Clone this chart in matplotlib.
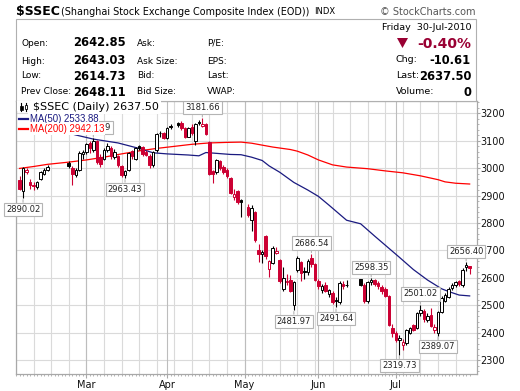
import numpy as np
import pandas as pd
import matplotlib
matplotlib.use("Agg")
import matplotlib.pyplot as plt
from matplotlib.patches import Rectangle, Polygon
from matplotlib.lines import Line2D

W, H = 520, 391

RED = "#cc0033"
DARKRED = "#990033"
NAVY = "#1a1a80"
MARED = "#ff0000"
GRID = "#dadada"
GRID_MONTH = "#bdbdbd"
FRAME = "#a8a8a8"

# market closed (Spring festival, Qingming, Labour day, Dragon boat)
holidays = ["2010-02-15", "2010-02-16", "2010-02-17", "2010-02-18", "2010-02-19",
            "2010-04-05", "2010-05-03", "2010-06-14", "2010-06-15", "2010-06-16"]

# daily bars, 2 Feb .. 30 Jul 2010 (one line per month)
opens = [
    2955, 2915, 2985, 2950, 2940, 2932, 2962, 2978, 2993, 3020, 3002, 2975, 2995, 3050,
    3058, 3090, 3065, 3098, 3040, 3035, 3065, 3075, 3042, 3045, 3008, 2975, 2995, 3062,
    3035, 3082, 3078, 3060, 3045, 3010, 3065, 3127, 3128,
    3110, 3155, 3165, 3165, 3145, 3115, 3150, 3098, 3168, 3155, 3160, 3097, 2988, 2985,
    3025, 3003, 2995, 2965, 2893, 2915, 2882,
    2860, 2810, 2840, 2700, 2685, 2752, 2632, 2655, 2690, 2665, 2560, 2585, 2593, 2500,
    2628, 2657, 2625, 2622, 2673, 2652,
    2590, 2555, 2575, 2540, 2545, 2520, 2512, 2578, 2575, 2594, 2575, 2515, 2586, 2592,
    2580, 2568, 2560, 2535, 2416,
    2400, 2372, 2355, 2362, 2400, 2428, 2415, 2470, 2478, 2445, 2465, 2410, 2400, 2475,
    2515, 2530, 2562, 2572, 2588, 2572, 2638, 2642.85,
]
highs = [
    2970, 3006, 3000, 2960, 2950, 2952, 2990, 3002, 3012, 3025, 3008, 3002, 3062, 3065,
    3090, 3100, 3108.59, 3102, 3050, 3072, 3090, 3082, 3070, 3048, 3010, 2995, 3060, 3065,
    3078, 3086, 3082, 3065, 3050, 3062, 3130, 3136, 3132,
    3150, 3160, 3170, 3172, 3150, 3150, 3160, 3165, 3175, 3181.66, 3165, 3100, 2995, 3035,
    3030, 3010, 3000, 2968, 2925, 2920, 2888,
    2870, 2865, 2845, 2725, 2700, 2755, 2665, 2715, 2712, 2668, 2640, 2615, 2612, 2590,
    2680, 2662, 2640, 2668, 2686.54, 2655,
    2595, 2578, 2585, 2560, 2550, 2530, 2590, 2588, 2592, 2596, 2580, 2590, 2598.35, 2595,
    2590, 2572, 2565, 2538, 2430,
    2405, 2392, 2375, 2412, 2420, 2432, 2475, 2501.02, 2485, 2470, 2490, 2430, 2480, 2535,
    2545, 2565, 2580, 2590, 2592, 2635, 2656.40, 2643.03,
]
lows = [
    2920, 2890.02, 2978, 2925, 2922, 2925, 2958, 2975, 2990, 3000, 2940, 2968, 2990, 3035,
    3050, 3055, 3060, 3015, 3005, 3030, 3058, 3035, 3035, 3005, 2968, 2963.43, 2990, 3035,
    3030, 3065, 3045, 3045, 3000, 3005, 3060, 3115, 3105,
    3108, 3142, 3150, 3140, 3110, 3112, 3120, 3085, 3158, 3150, 3120, 2975, 2945, 2980,
    2995, 2980, 2965, 2905, 2885, 2870, 2822,
    2820, 2770, 2730, 2658, 2655, 2670, 2603, 2650, 2685, 2580, 2552, 2575, 2548, 2481.97,
    2622, 2590, 2595, 2610, 2640, 2588,
    2560, 2545, 2548, 2530, 2505, 2491.64, 2505, 2560, 2565, 2570, 2508, 2508, 2575, 2570,
    2560, 2540, 2530, 2425, 2385,
    2365, 2319.73, 2338, 2355, 2395, 2405, 2412, 2460, 2440, 2438, 2420, 2400, 2389.07, 2470,
    2510, 2525, 2555, 2565, 2570, 2568, 2625, 2614.73,
]
closes = [
    2925, 3000, 2993, 2940, 2935, 2948, 2985, 2995, 3005, 3008, 2978, 2995, 3055, 3058,
    3087, 3073, 3100, 3022, 3015, 3068, 3080, 3045, 3060, 3012, 2975, 2990, 3057, 3045,
    3072, 3075, 3050, 3048, 3012, 3058, 3125, 3128, 3109,
    3148, 3150, 3157, 3145, 3115, 3145, 3128, 3160, 3163, 3160, 3125, 2980, 2978, 3030,
    3000, 2985, 2970, 2910, 2905, 2875, 2877,
    2830, 2855, 2738, 2688, 2695, 2678, 2660, 2710, 2698, 2588, 2598, 2590, 2553, 2583,
    2672, 2618, 2622, 2660, 2652, 2592.15,
    2569, 2571, 2553, 2554, 2512, 2514, 2580, 2570, 2572, 2575, 2514, 2585, 2592, 2578,
    2570, 2552, 2535, 2427, 2398,
    2373, 2382, 2364, 2409, 2415, 2411, 2470, 2482, 2448, 2460, 2424, 2420, 2475, 2528,
    2538, 2560, 2572, 2585, 2576, 2630, 2648.11, 2637.50,
]

ma50_dates = ["2010-02-10", "2010-02-22", "2010-02-24", "2010-03-03", "2010-03-12",
              "2010-03-22", "2010-03-26", "2010-04-01", "2010-04-09", "2010-04-14",
              "2010-04-16", "2010-04-21", "2010-04-27", "2010-04-30", "2010-05-05",
              "2010-05-10", "2010-05-12", "2010-05-17", "2010-05-21", "2010-05-27",
              "2010-06-01", "2010-06-04", "2010-06-11", "2010-06-17", "2010-06-23",
              "2010-06-29", "2010-07-02", "2010-07-08", "2010-07-14", "2010-07-20",
              "2010-07-22", "2010-07-27", "2010-07-30"]
ma50_vals = [3150, 3128, 3121, 3106, 3092, 3072, 3056, 3052, 3048, 3045,
             3057, 3054, 3050, 3049, 3040, 3028, 3008, 2985, 2948, 2920,
             2897, 2865, 2810, 2797, 2752, 2708, 2675, 2630, 2592, 2560,
             2550, 2537, 2533.88]

ma200_dates = ["2010-02-02", "2010-02-08", "2010-02-12", "2010-02-22", "2010-03-01",
               "2010-03-08", "2010-03-15", "2010-03-22", "2010-03-29", "2010-04-06",
               "2010-04-12", "2010-04-19", "2010-04-26", "2010-04-30", "2010-05-05",
               "2010-05-10", "2010-05-13", "2010-05-20", "2010-05-24", "2010-05-27",
               "2010-06-01", "2010-06-07", "2010-06-11", "2010-06-17", "2010-06-21",
               "2010-06-28", "2010-07-05", "2010-07-12", "2010-07-19", "2010-07-21",
               "2010-07-26", "2010-07-30"]
ma200_vals = [2999, 3006, 3014, 3022, 3030, 3040, 3052, 3063, 3072, 3081,
              3087, 3092, 3094, 3095, 3091, 3084, 3077, 3068, 3062, 3048,
              3030, 3012, 3004, 3000, 2998, 2990, 2983, 2972, 2958, 2950,
              2945, 2942.13]

# price flags on the chart
flag_dates = ["2010-02-03", "2010-03-03", "2010-03-16", "2010-04-15", "2010-05-21",
              "2010-05-28", "2010-06-08", "2010-06-22", "2010-07-02", "2010-07-12",
              "2010-07-19", "2010-07-29"]
flag_side = ["low", "high", "low", "high", "low", "high", "low", "high", "low", "high",
             "low", "high"]


def fx(x):
    return x / W


def fy(y):
    return 1 - y / H


fig = plt.figure(figsize=(W / 100, H / 100), dpi=100)
fig.patch.set_facecolor("white")

weekdays = pd.bdate_range("2010-02-01", "2010-07-30")
days = weekdays[1:].difference(pd.to_datetime(holidays))
pos = weekdays.get_indexer(days)

o, h, l, c = map(np.array, (opens, highs, lows, closes))
prev = np.r_[o[0], c[:-1]]
edge = np.where(c >= prev, "black", RED)
face = np.where(c > o, "white", edge)

ax = fig.add_axes([fx(16), fy(374), (476.7 - 16) / W, (374 - 101) / H])

# grid: weekly (mondays) and month starts
mondays = [i for i, d in enumerate(weekdays) if d.dayofweek == 0]
month_pos = [i for i in range(1, len(weekdays)) if weekdays[i].month != weekdays[i - 1].month]
for i in mondays:
    ax.axvline(i, color=GRID, lw=0.8, zorder=0)
for i in month_pos:
    ax.axvline(i, color=GRID_MONTH, lw=0.8, zorder=0.5)
for v in range(2300, 3201, 100):
    ax.axhline(v, color=GRID, lw=0.8, zorder=0)

ax.plot(weekdays.get_indexer(pd.to_datetime(ma200_dates)), ma200_vals, color=MARED, lw=0.9, zorder=2)
ax.plot(weekdays.get_indexer(pd.to_datetime(ma50_dates)), ma50_vals, color=NAVY, lw=0.9, zorder=2)

ax.vlines(pos, l, h, colors=edge, lw=0.8, zorder=3)
ax.bar(pos, np.maximum(np.abs(c - o), 2.5), bottom=np.minimum(o, c), width=0.72,
       color=face, edgecolor=edge, lw=0.7, zorder=4)

for d, side in zip(flag_dates, flag_side):
    k = days.get_loc(pd.Timestamp(d))
    val = h[k] if side == "high" else l[k]
    dy = 11 if side == "high" else -11
    ax.annotate(f"{val:.2f}", xy=(pos[k], val), xytext=(0, dy), textcoords="offset pixels",
                ha="center", va="center", fontsize=6, color="#222222", zorder=6,
                annotation_clip=False,
                bbox=dict(boxstyle="square,pad=0.25", fc="white", ec="#b4b4b4", lw=0.8),
                arrowprops=dict(arrowstyle="-", color="#b4b4b4", lw=0.8, shrinkA=0, shrinkB=1))

ax.set_xlim(0.28, 131.0)
ax.set_ylim(2249, 3245)
ax.yaxis.tick_right()
ax.set_yticks(range(2300, 3201, 100))
ax.set_yticks(range(2260, 3245, 20), minor=True)
ax.set_xticks(month_pos)
ax.set_xticklabels([weekdays[i].strftime("%b") for i in month_pos])
ax.set_xticks(range(len(weekdays)), minor=True)
ax.tick_params(which="major", length=3, color=FRAME, labelsize=7, pad=1.5, labelcolor="#111111")
ax.tick_params(axis="y", which="major", length=2, pad=0.8)
ax.tick_params(which="minor", length=1.5, color=FRAME)
for s in ax.spines.values():
    s.set_color(FRAME)
    s.set_linewidth(0.9)

# legend in the plot corner (sits over the flags)
leg_bg = dict(boxstyle="square,pad=0.15", fc="white", ec="none")
fig.text(fx(33), fy(107), f"$SSEC (Daily) {closes[-1]:.2f}", fontsize=8, va="center", bbox=leg_bg, zorder=5)
fig.text(fx(29.5), fy(118.5), f"MA(50) {ma50_vals[-1]:.2f}", fontsize=6.9, family="Liberation Sans",
         color=NAVY, va="center", bbox=leg_bg, zorder=5)
fig.text(fx(29.5), fy(129), f"MA(200) {ma200_vals[-1]:.2f}", fontsize=6.9, family="Liberation Sans",
         color=MARED, va="center", bbox=leg_bg, zorder=5)
fig.add_artist(Rectangle((fx(17), fy(111)), fx(16), 10 / H, fc="white", ec="none", zorder=5))
fig.add_artist(Line2D([fx(21), fx(21)], [fy(103), fy(111)], color="black", lw=0.8, zorder=6))
fig.add_artist(Rectangle((fx(20), fy(109.5)), fx(2.5), 4 / H, fc="black", ec="black", lw=0.5, zorder=6))
fig.add_artist(Line2D([fx(26), fx(26)], [fy(103), fy(111)], color="black", lw=0.8, zorder=6))
fig.add_artist(Rectangle((fx(24.8), fy(109)), fx(2.5), 4 / H, fc="white", ec="black", lw=0.6, zorder=6))
fig.add_artist(Line2D([fx(19), fx(28)], [fy(118.5), fy(118.5)], color=NAVY, lw=1.6, zorder=6))
fig.add_artist(Line2D([fx(19), fx(28)], [fy(129), fy(129)], color=MARED, lw=1.6, zorder=6))

# title row
fig.text(fx(16), fy(12), "$SSEC", fontsize=9, fontweight="bold", va="center")
fig.text(fx(61), fy(12), "(Shanghai Stock Exchange Composite Index (EOD))", fontsize=6.9, va="center")
fig.text(fx(314), fy(12), "INDX", fontsize=6, va="center")
fig.text(fx(476), fy(12), "\u00a9 StockCharts.com", fontsize=7, color="#555555", ha="right", va="center")

# quote box
fig.add_artist(Rectangle((fx(16), fy(101)), fx(460), 82 / H, fc="white", ec="#b0b0b0", lw=0.8, zorder=1))
rows_y = [43, 61, 76, 92]
left_labels = ["Open:", "High:", "Low:", "Prev Close:"]
left_values = [opens[-1], highs[-1], lows[-1], closes[-2]]
mid_labels = ["Ask:", "Ask Size:", "Bid:", "Bid Size:"]
mid2_labels = ["P/E:", "EPS:", "Last:", "VWAP:"]
for y, a, v, b, e in zip(rows_y, left_labels, left_values, mid_labels, mid2_labels):
    fig.text(fx(21), fy(y), a, fontsize=6.5, va="center", zorder=2)
    fig.text(fx(73), fy(y), f"{v:.2f}", fontsize=8.3, fontweight="bold", va="center", zorder=2)
    fig.text(fx(137), fy(y), b, fontsize=6.5, va="center", zorder=2)
    fig.text(fx(207), fy(y), e, fontsize=6.5, va="center", zorder=2)

chg = closes[-1] - closes[-2]
pct = chg / closes[-2] * 100
fig.text(fx(471), fy(28), "Friday  30-Jul-2010", fontsize=6.8, ha="right", va="center", zorder=2)
fig.add_artist(Polygon([(fx(397), fy(38)), (fx(408), fy(38)), (fx(402.5), fy(48))],
                       closed=True, fc=DARKRED, ec="none", zorder=2))
fig.text(fx(471), fy(43.5), f"{pct:.2f}%", fontsize=10, fontweight="bold", color=DARKRED,
         ha="right", va="center", zorder=2)
fig.text(fx(396), fy(60), "Chg:", fontsize=6.8, va="center", zorder=2)
fig.text(fx(471), fy(60), f"{chg:.2f}", fontsize=8.3, fontweight="bold", ha="right", va="center", zorder=2)
fig.text(fx(396), fy(76), "Last:", fontsize=6.8, va="center", zorder=2)
fig.text(fx(471), fy(76), f"{closes[-1]:.2f}", fontsize=8.3, fontweight="bold", ha="right", va="center", zorder=2)
fig.text(fx(396), fy(92), "Volume:", fontsize=6.8, va="center", zorder=2)
fig.text(fx(471), fy(92), "0", fontsize=8.3, fontweight="bold", ha="right", va="center", zorder=2)

fig.savefig("out.png", dpi=100)
